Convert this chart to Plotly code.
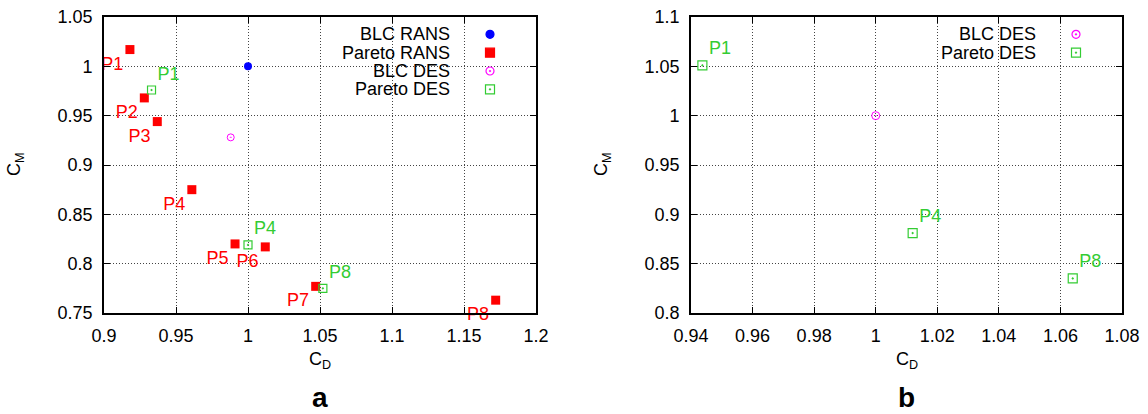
import plotly.graph_objects as go

# ---------------- data: panel a ----------------
blc_rans_cd = [1.000]
blc_rans_cm = [1.000]

pareto_rans_cd = [0.918, 0.928, 0.937, 0.961, 0.991, 1.012, 1.047, 1.172]
pareto_rans_cm = [1.017, 0.968, 0.944, 0.875, 0.820, 0.817, 0.777, 0.763]
pareto_rans_lbl = ["P1", "P2", "P3", "P4", "P5", "P6", "P7", "P8"]

blc_des_a_cd = [0.988]
blc_des_a_cm = [0.928]

pareto_des_a_cd = [0.933, 1.000, 1.052]
pareto_des_a_cm = [0.976, 0.819, 0.775]
pareto_des_a_lbl = ["P1", "P4", "P8"]

# ---------------- data: panel b ----------------
blc_des_b_cd = [1.000]
blc_des_b_cm = [1.000]

pareto_des_b_cd = [0.9437, 1.012, 1.064]
pareto_des_b_cm = [1.051, 0.881, 0.835]
pareto_des_b_lbl = ["P1", "P4", "P8"]

# ---------------- tick labels ----------------
xa_ticks = [0.9, 0.95, 1.0, 1.05, 1.1, 1.15, 1.2]
xa_text = ["0.9", "0.95", "1", "1.05", "1.1", "1.15", "1.2"]
ya_ticks = [0.75, 0.8, 0.85, 0.9, 0.95, 1.0, 1.05]
ya_text = ["0.75", "0.8", "0.85", "0.9", "0.95", "1", "1.05"]
xb_ticks = [0.94, 0.96, 0.98, 1.0, 1.02, 1.04, 1.06, 1.08]
xb_text = ["0.94", "0.96", "0.98", "1", "1.02", "1.04", "1.06", "1.08"]
yb_ticks = [0.8, 0.85, 0.9, 0.95, 1.0, 1.05, 1.1]
yb_text = ["0.8", "0.85", "0.9", "0.95", "1", "1.05", "1.1"]

legend_a = ["BLC RANS", "Pareto RANS", "BLC DES", "Pareto DES"]
legend_b = ["BLC DES", "Pareto DES"]

# ---------------- styles ----------------
W, H = 1148, 414
FONT = "Liberation Sans, Arial, Helvetica, sans-serif"
FS = 18
RED = "#ff0000"
BLUE = "#0000ff"
MAG = "#ff00ff"
GRN = "#33cc33"

# plot frames in pixels
A_L, A_R = 104, 536
B_L, B_R = 691, 1122
TOP, BOT = 17, 313


def px_x(p):
    return p / W


def px_y(p):
    return 1 - p / H


fig = go.Figure()

# panel a
fig.add_trace(go.Scatter(x=blc_rans_cd, y=blc_rans_cm, mode="markers",
                         marker=dict(symbol="circle", size=8, color=BLUE),
                         xaxis="x", yaxis="y", showlegend=False))
fig.add_trace(go.Scatter(x=pareto_rans_cd, y=pareto_rans_cm, mode="markers+text",
                         text=pareto_rans_lbl, textposition="bottom left",
                         textfont=dict(color=RED, size=FS, family=FONT),
                         marker=dict(symbol="square", size=9, color=RED),
                         xaxis="x", yaxis="y", showlegend=False, cliponaxis=False))
fig.add_trace(go.Scatter(x=blc_des_a_cd, y=blc_des_a_cm, mode="markers",
                         marker=dict(symbol="circle-open-dot", size=7, color=MAG,
                                     line=dict(width=1, color=MAG)),
                         xaxis="x", yaxis="y", showlegend=False))
fig.add_trace(go.Scatter(x=pareto_des_a_cd, y=pareto_des_a_cm, mode="markers+text",
                         text=pareto_des_a_lbl, textposition="top right",
                         textfont=dict(color=GRN, size=FS, family=FONT),
                         marker=dict(symbol="square-open-dot", size=8, color=GRN,
                                     line=dict(width=1.2, color=GRN)),
                         xaxis="x", yaxis="y", showlegend=False, cliponaxis=False))

# panel b
fig.add_trace(go.Scatter(x=blc_des_b_cd, y=blc_des_b_cm, mode="markers",
                         marker=dict(symbol="circle-open-dot", size=8, color=MAG,
                                     line=dict(width=1, color=MAG)),
                         xaxis="x2", yaxis="y2", showlegend=False))
fig.add_trace(go.Scatter(x=pareto_des_b_cd, y=pareto_des_b_cm, mode="markers+text",
                         text=pareto_des_b_lbl, textposition="top right",
                         textfont=dict(color=GRN, size=FS, family=FONT),
                         marker=dict(symbol="square-open-dot", size=9, color=GRN,
                                     line=dict(width=1.2, color=GRN)),
                         xaxis="x2", yaxis="y2", showlegend=False, cliponaxis=False))

# ---------------- gnuplot-style legends (text, then key on the right) ----------------
row_y = [34.3, 52.7, 71.0, 89.3]
key_a = [("circle", BLUE, 8), ("square", RED, 9), ("circle-open-dot", MAG, 8), ("square-open-dot", GRN, 9)]
key_b = [("circle-open-dot", MAG, 8), ("square-open-dot", GRN, 9)]

annotations = []
for i, name in enumerate(legend_a):
    annotations.append(dict(text=name, x=px_x(A_R - 84.5), y=px_y(row_y[i]), xref="paper", yref="paper",
                            xanchor="right", yanchor="middle", showarrow=False,
                            font=dict(size=FS, family=FONT, color="black")))
    sym, col, sz = key_a[i]
    fig.add_trace(go.Scatter(x=[A_R - 46], y=[row_y[i]], mode="markers",
                             marker=dict(symbol=sym, size=sz, color=col, line=dict(width=1.2, color=col)),
                             xaxis="x3", yaxis="y3", showlegend=False, hoverinfo="skip"))
for i, name in enumerate(legend_b):
    annotations.append(dict(text=name, x=px_x(B_R - 84.5), y=px_y(row_y[i]), xref="paper", yref="paper",
                            xanchor="right", yanchor="middle", showarrow=False,
                            font=dict(size=FS, family=FONT, color="black")))
    sym, col, sz = key_b[i]
    fig.add_trace(go.Scatter(x=[B_R - 46], y=[row_y[i]], mode="markers",
                             marker=dict(symbol=sym, size=sz, color=col, line=dict(width=1.2, color=col)),
                             xaxis="x3", yaxis="y3", showlegend=False, hoverinfo="skip"))

# axis titles and panel letters
for left, right, letter in [(A_L, A_R, "a"), (B_L, B_R, "b")]:
    cx = (left + right) / 2
    annotations.append(dict(text="C<sub>D</sub>", x=px_x(cx), y=px_y(360), xref="paper", yref="paper",
                            xanchor="center", yanchor="middle", showarrow=False,
                            font=dict(size=FS, family=FONT, color="black")))
    annotations.append(dict(text="C<sub>M</sub>", x=px_x(left - 89), y=px_y(164), xref="paper", yref="paper",
                            xanchor="center", yanchor="middle", showarrow=False, textangle=-90,
                            font=dict(size=FS, family=FONT, color="black")))
    annotations.append(dict(text="<b>" + letter + "</b>", x=px_x(cx), y=0, xref="paper", yref="paper",
                            xanchor="center", yanchor="bottom", showarrow=False, borderpad=0,
                            font=dict(size=28, family=FONT, color="black")))

axis_common = dict(showline=True, linecolor="black", linewidth=1.6, mirror="ticks",
                   ticks="inside", ticklen=6, tickwidth=1, tickcolor="black",
                   showgrid=True, gridcolor="#444444", gridwidth=1, griddash="1px,2px",
                   zeroline=False, ticklabelstandoff=6, automargin=False,
                   tickfont=dict(size=FS, family=FONT, color="black"))

fig.update_layout(
    template="none",
    width=W, height=H,
    margin=dict(l=0, r=0, t=0, b=0, pad=0, autoexpand=False),
    paper_bgcolor="white", plot_bgcolor="rgba(0,0,0,0)",
    font=dict(family=FONT, size=FS, color="black"),
    showlegend=False,
    xaxis=dict(domain=[px_x(A_L), px_x(A_R)], range=[0.9, 1.2], tickvals=xa_ticks, ticktext=xa_text,
               anchor="y", **axis_common),
    yaxis=dict(domain=[px_y(BOT), px_y(TOP)], range=[0.75, 1.05], tickvals=ya_ticks, ticktext=ya_text,
               anchor="x", **axis_common),
    xaxis2=dict(domain=[px_x(B_L), px_x(B_R)], range=[0.94, 1.08], tickvals=xb_ticks, ticktext=xb_text,
                anchor="y2", **axis_common),
    yaxis2=dict(domain=[px_y(BOT), px_y(TOP)], range=[0.8, 1.1], tickvals=yb_ticks, ticktext=yb_text,
                anchor="x2", **axis_common),
    xaxis3=dict(domain=[0, 1], range=[0, W], visible=False, anchor="y3", fixedrange=True, automargin=False),
    yaxis3=dict(domain=[0, 1], range=[H, 0], visible=False, anchor="x3", fixedrange=True, automargin=False),
    annotations=annotations,
)

fig.write_html("out.html")
